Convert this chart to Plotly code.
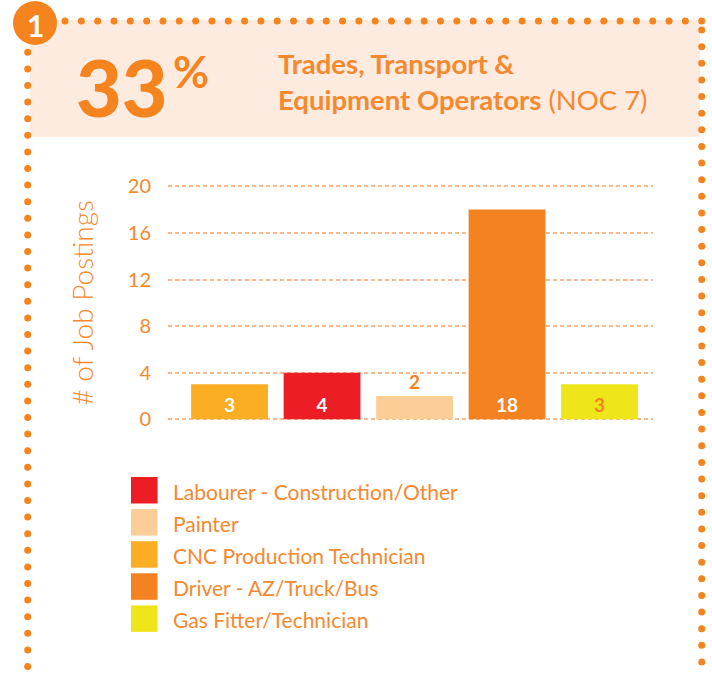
import numpy as np
import plotly.graph_objects as go

# ---------------- data ----------------
categories = [
    "CNC Production Technician",
    "Labourer - Construction/Other",
    "Painter",
    "Driver - AZ/Truck/Bus",
    "Gas Fitter/Technician",
]
postings = [3, 4, 2, 18, 3]
bar_colors = ["#FBAE24", "#EC1D25", "#FBCD97", "#F58220", "#EEE61B"]
label_colors = ["#FFFFFF", "#FFFFFF", "#F58220", "#FFFFFF", "#F58220"]
label_positions = ["inside", "inside", "outside", "inside", "inside"]
legend_order = [
    "Labourer - Construction/Other",
    "Painter",
    "CNC Production Technician",
    "Driver - AZ/Truck/Bus",
    "Gas Fitter/Technician",
]
y_ticks = [0, 4, 8, 12, 16, 20]
section_number = "1"
headline_value = "33"
headline_unit = "%"
title_line1 = "Trades, Transport &"
title_line2_bold = "Equipment Operators"
title_line2_light = "(NOC 7)"
y_title = "# of Job Postings"

# ---------------- style ----------------
W, H = 712, 675
ORANGE = "#F5841F"
TEXT = "#F5892F"
GRID = "#F9B98A"
BAND = "#FDEBDF"
FONT = "Lato"


def fx(x):
    return x / W


def fy(y):
    return 1 - y / H


color_of = dict(zip(categories, bar_colors))

fig = go.Figure()

fig.add_trace(
    go.Bar(
        x=categories,
        y=postings,
        marker=dict(color=bar_colors, line_width=0),
        text=[str(v) for v in postings],
        textposition=label_positions,
        insidetextanchor="start",
        textangle=0,
        constraintext="none",
        textfont=dict(family=FONT, size=19, color=label_colors, weight=700),
        cliponaxis=False,
        showlegend=False,
        hoverinfo="skip",
    )
)

# decorative dotted frame (pixel-coordinate overlay axes)
top_x = np.linspace(65, 701.7, 40)
left_y = np.arange(52.3, 676, 16.6)
right_y = np.arange(30, 676, 16.63)
dot_x = np.concatenate([top_x, np.full(len(left_y), 27.7), np.full(len(right_y), 701.7)])
dot_y = np.concatenate([np.full(len(top_x), 21.0), left_y, right_y])
fig.add_trace(
    go.Scatter(
        x=dot_x, y=dot_y, mode="markers", xaxis="x2", yaxis="y2",
        marker=dict(size=7, color=ORANGE), showlegend=False, hoverinfo="skip",
        cliponaxis=False,
    )
)
fig.add_trace(
    go.Scatter(
        x=[35], y=[23], mode="markers", xaxis="x2", yaxis="y2",
        marker=dict(size=44, color=ORANGE), showlegend=False, hoverinfo="skip",
        cliponaxis=False,
    )
)

shapes = [
    dict(type="rect", xref="x2", yref="y2", x0=30, x1=700, y0=20, y1=137,
         fillcolor=BAND, line_width=0, layer="below"),
]
annotations = [
    dict(xref="x2", yref="y2", x=35.5, y=25, text=f"<b>{section_number}</b>",
         showarrow=False, font=dict(family=FONT, size=30, color="white", weight=900),
         xanchor="center", yanchor="middle"),
    dict(xref="x2", yref="y2", x=74, y=86, text=headline_value, showarrow=False,
         font=dict(family=FONT, size=79, color=ORANGE, weight=900),
         xanchor="left", yanchor="middle"),
    dict(xref="x2", yref="y2", x=171, y=71, text=headline_unit, showarrow=False,
         font=dict(family=FONT, size=44, color=ORANGE, weight=700),
         xanchor="left", yanchor="middle"),
    dict(xref="x2", yref="y2", x=276, y=81,
         text=f"<b>{title_line1}</b><br><b>{title_line2_bold}</b> {title_line2_light}",
         showarrow=False, align="left",
         font=dict(family=FONT, size=27.5, color=TEXT, weight=400),
         xanchor="left", yanchor="middle"),
]

# manual legend with large swatches
for i, name in enumerate(legend_order):
    y0 = 477 + 32.1 * i
    shapes.append(dict(type="rect", xref="x2", yref="y2", x0=131, x1=157.5,
                       y0=y0, y1=y0 + 26.5, fillcolor=color_of[name], line_width=0))
    annotations.append(dict(xref="x2", yref="y2", x=171, y=y0 + 14, text=name,
                            showarrow=False, xanchor="left", yanchor="middle",
                            font=dict(family=FONT, size=21, color=TEXT, weight=400)))

UNIT = 11.65  # px per y-unit, used only to keep the edge gridlines inside the domain
PAD = 0.15
fig.update_layout(
    width=W,
    height=H,
    margin=dict(l=0, r=0, t=0, b=0, pad=0),
    paper_bgcolor="white",
    plot_bgcolor="rgba(0,0,0,0)",
    bargap=0.17,
    font=dict(family=FONT, color=TEXT),
    xaxis=dict(
        domain=[fx(168), fx(653)],
        range=[-0.665, 4.578],
        showticklabels=False,
        showgrid=False,
        zeroline=False,
        showline=False,
        fixedrange=True,
        automargin=False,
        anchor="y",
    ),
    yaxis=dict(
        domain=[fy(419.3 + PAD * UNIT), fy(186.3 - PAD * UNIT)],
        range=[-PAD, 20 + PAD],
        tickvals=y_ticks,
        ticktext=[str(t) for t in y_ticks],
        showgrid=True,
        gridcolor=GRID,
        gridwidth=1.5,
        griddash="4px,3px",
        zeroline=False,
        showline=False,
        ticks="",
        ticklabelstandoff=16,
        tickfont=dict(family=FONT, size=20, color=TEXT, weight=400),
        title=dict(text=y_title, standoff=25,
                   font=dict(family=FONT, size=28, color=TEXT, weight=300)),
        automargin=False,
        fixedrange=True,
        anchor="x",
    ),
    xaxis2=dict(domain=[0, 1], range=[0, W], visible=False, anchor="y2",
                fixedrange=True, automargin=False),
    yaxis2=dict(domain=[0, 1], range=[H, 0], visible=False, anchor="x2",
                fixedrange=True, automargin=False),
    shapes=shapes,
    annotations=annotations,
)

fig.write_html(
    "out.html",
    config={"displayModeBar": False},
    post_script="document.body.style.margin='0';",
)
